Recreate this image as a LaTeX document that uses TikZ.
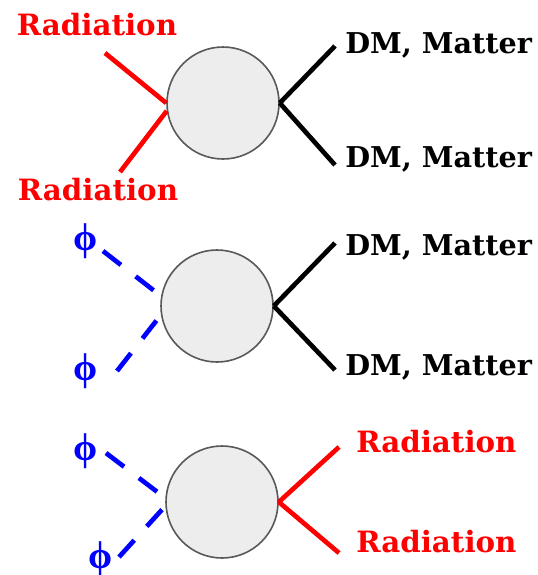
\documentclass[tikz,border=0pt]{standalone}
\usepackage{fontspec}
\setmainfont{DejaVu Serif}
\newfontfamily\phifont{Liberation Serif}

\tikzset{
  blob/.style={circle,draw=black!65,line width=1.2pt,fill=black!7,minimum size=84pt,inner sep=0pt},
  radline/.style={red,line width=3.5pt},
  dmline/.style={black,line width=3.5pt},
  philine/.style={blue,line width=3.5pt,dash pattern=on 17pt off 14pt},
  radlabel/.style={red,font=\bfseries\fontsize{22}{22}\selectfont,inner sep=0pt},
  dmlabel/.style={black,font=\bfseries\fontsize{21.5}{22}\selectfont,inner sep=0pt,anchor=base west},
  philabel/.style={blue,font=\phifont\bfseries\fontsize{29}{29}\selectfont,inner sep=0pt}
}

\begin{document}
\begin{tikzpicture}[x=0.75pt,y=-0.75pt]
\useasboundingbox (0,0) rectangle (537,575);
% radiation -> DM, matter
\node[blob] (c1) at (223,103) {};
\coordinate (r1) at (105,53);
\coordinate (r2) at (120,172);
\coordinate (d1) at (335,46);
\coordinate (d2) at (335,165);
\draw[radline] (r1) -- (c1.west);
\draw[radline] (r2) -- (c1.188);
\draw[dmline] (c1.east) -- (d1);
\draw[dmline] (c1.east) -- (d2);
\node[radlabel,anchor=base] (rad1) at (97,35) {Radiation};
\node[radlabel,anchor=base] (rad2) at (98,200) {Radiation};
\node[dmlabel] (dm1) at (345,53) {DM, Matter};
\node[dmlabel] (dm2) at (345,167) {DM, Matter};
% phi -> DM, matter
\node[blob] (c2) at (217,306) {};
\coordinate (f1) at (103,251);
\coordinate (f2) at (117,371);
\coordinate (d3) at (335,243);
\coordinate (d4) at (335,370);
\draw[philine] (f1) -- (c2.170);
\draw[philine] (f2) -- (c2.189);
\draw[dmline] (c2.east) -- (d3);
\draw[dmline] (c2.east) -- (d4);
\node[philabel] (phi1) at (86,241) {ϕ};
\node[philabel] (phi2) at (86,371) {ϕ};
\node[dmlabel] (dm3) at (345,255) {DM, Matter};
\node[dmlabel] (dm4) at (345,375) {DM, Matter};
% phi -> radiation
\node[blob] (c3) at (222,502) {};
\coordinate (f3) at (106,453);
\coordinate (f4) at (119,557);
\coordinate (r3) at (339,447);
\coordinate (r4) at (339,553);
\draw[philine] (f3) -- (c3.176);
\draw[philine] (f4) -- (c3.184);
\draw[radline] (c3.east) -- (r3);
\draw[radline] (c3.east) -- (r4);
\node[philabel] (phi3) at (86,451) {ϕ};
\node[philabel] (phi4) at (101,559) {ϕ};
\node[radlabel,anchor=base west] (rad3) at (356,452) {Radiation};
\node[radlabel,anchor=base west] (rad4) at (356,552) {Radiation};
\end{tikzpicture}
\end{document}
